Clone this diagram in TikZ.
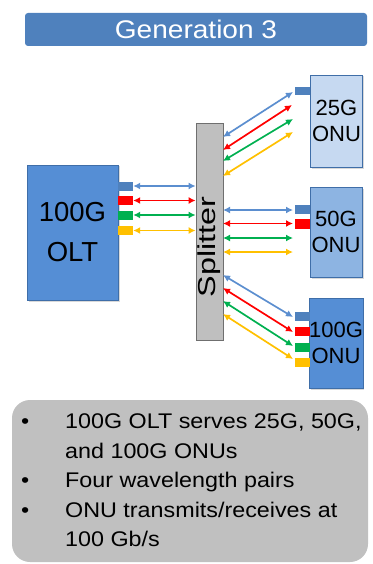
\documentclass[tikz,border=0pt]{standalone}
\usepackage{fontspec}
\setmainfont{Liberation Sans}
\newfontfamily\widesans{Liberation Sans}[FakeStretch=1.1]
\usetikzlibrary{arrows.meta,shadows}

\definecolor{titleblue}{HTML}{4F81BD}
\definecolor{boxline}{HTML}{3F6EA8}
\definecolor{oltblue}{HTML}{558ED5}
\definecolor{onulight}{HTML}{C6D9F1}
\definecolor{onumid}{HTML}{8DB4E2}
\definecolor{portblue}{HTML}{4F81BD}
\definecolor{lnblue}{HTML}{5B8ECF}
\definecolor{lnred}{HTML}{FF0000}
\definecolor{lngreen}{HTML}{00B050}
\definecolor{lnyellow}{HTML}{FFC000}
\definecolor{splitgray}{HTML}{BFBFBF}
\definecolor{splitline}{HTML}{6F6F6F}
\definecolor{notegray}{HTML}{C0C0C0}

\begin{document}
\begin{tikzpicture}[
        x=1pt, y=-1pt,
        box/.style={draw=boxline, line width=0.6pt, inner sep=0pt, align=center,
            drop shadow={shadow xshift=1.5pt, shadow yshift=-1.5pt, opacity=0.3}},
        port/.style={minimum width=15pt, minimum height=9pt, inner sep=0pt},
        link/.style={line width=1.7pt, {Latex[length=7pt,width=7pt]}-{Latex[length=7pt,width=7pt]}},
        onulabel/.style={font=\fontsize{22}{26}\selectfont}
    ]
        \useasboundingbox (0,0) rectangle (372,564);

        % title bar
        \node[fill=titleblue, rounded corners=3pt, minimum width=342pt, minimum height=33pt,
              inner sep=0pt, text=white, font=\widesans\fontsize{25.5}{30}\selectfont]
              (title) at (196,29.5) {Generation 3};

        % OLT, splitter and ONUs
        \node[box, fill=oltblue, minimum width=91pt, minimum height=135pt,
              font=\fontsize{27.5}{40}\selectfont] (olt) at (72.5,232.5) {100G\\OLT};
        \node[draw=splitline, fill=splitgray, line width=0.8pt, minimum width=27pt,
              minimum height=217pt, inner sep=0pt] (spl) at (209.5,231.5) {};
        \node[rotate=90, inner sep=0pt, font=\fontsize{24.5}{28}\selectfont]
              (spltext) at (209.5,247) {\scalebox{1.32}[1]{Splitter}};
        \node[box, fill=onulight, minimum width=52pt, minimum height=92pt, onulabel]
              (onuA) at (336.5,121) {25G\\ONU};
        \node[box, fill=onumid, minimum width=52pt, minimum height=90pt, onulabel]
              (onuB) at (336,232) {50G\\ONU};
        \node[box, fill=oltblue, minimum width=52pt, minimum height=90pt, onulabel]
              (onuC) at (336,343) {100G\\ONU};

        % ports
        \node[port, fill=portblue] (oltB) at (125.5,186) {};
        \node[port, fill=lnred]    (oltR) at (125.5,200.5) {};
        \node[port, fill=lngreen]  (oltG) at (125.5,215) {};
        \node[port, fill=lnyellow] (oltY) at (125.5,230.5) {};
        \node[port, fill=portblue, minimum height=8pt] (aB) at (302.5,91) {};
        \node[port, fill=portblue] (bB) at (302.5,209.5) {};
        \node[port, fill=lnred, minimum height=10pt] (bR) at (302.5,224) {};
        \node[port, fill=portblue] (cB) at (302.5,316) {};
        \node[port, fill=lnred]    (cR) at (302.5,331.5) {};
        \node[port, fill=lngreen]  (cG) at (302.5,347) {};
        \node[port, fill=lnyellow] (cY) at (302.5,362) {};

        % free ends of the links
        \coordinate (sA1) at (223,137);  \coordinate (eA1) at (293,92);
        \coordinate (sA2) at (223,150);  \coordinate (eA2) at (292,105);
        \coordinate (sA3) at (223,161);  \coordinate (eA3) at (293,119);
        \coordinate (sA4) at (223,176);  \coordinate (eA4) at (293,132);
        \coordinate (sB1) at (223,210);  \coordinate (eB1) at (293,210);
        \coordinate (sB2) at (223,223.5);\coordinate (eB2) at (293,223.5);
        \coordinate (sB3) at (223,238);  \coordinate (eB3) at (293,238);
        \coordinate (sB4) at (223,252);  \coordinate (eB4) at (293,252);
        \coordinate (sC1) at (223,275);  \coordinate (eC1) at (293,317);
        \coordinate (sC2) at (223,288);  \coordinate (eC2) at (293,332);
        \coordinate (sC3) at (223,301);  \coordinate (eC3) at (293,346);
        \coordinate (sC4) at (223,314);  \coordinate (eC4) at (293,359);

        % OLT to splitter
        \draw[link, lnblue]   (oltB) -- (oltB -| spl.west);
        \draw[link, lnred]    (oltR) -- (oltR -| spl.west);
        \draw[link, lngreen]  (oltG) -- (oltG -| spl.west);
        \draw[link, lnyellow] (oltY) -- (oltY -| spl.west);

        % splitter to ONUs
        \draw[link, lnblue]   (sA1) -- (eA1);
        \draw[link, lnred]    (sA2) -- (eA2);
        \draw[link, lngreen]  (sA3) -- (eA3);
        \draw[link, lnyellow] (sA4) -- (eA4);
        \draw[link, lnblue]   (sB1) -- (eB1);
        \draw[link, lnred]    (sB2) -- (eB2);
        \draw[link, lngreen]  (sB3) -- (eB3);
        \draw[link, lnyellow] (sB4) -- (eB4);
        \draw[link, lnblue]   (sC1) -- (eC1);
        \draw[link, lnred]    (sC2) -- (eC2);
        \draw[link, lngreen]  (sC3) -- (eC3);
        \draw[link, lnyellow] (sC4) -- (eC4);

        % notes
        \node[fill=notegray, rounded corners=18pt, minimum width=356pt, minimum height=162pt,
              inner sep=0pt] (notes) at (190,481) {};
        \node[anchor=north west, align=left, inner sep=0pt,
              font=\widesans\fontsize{21.2}{29.5}\selectfont] (notetext) at (21,413.5)
            {\makebox[44pt][l]{\textbullet}100G OLT serves 25G, 50G,\\
             \hspace*{44pt}and 100G ONUs\\
             \makebox[44pt][l]{\textbullet}Four wavelength pairs\\
             \makebox[44pt][l]{\textbullet}ONU transmits/receives at\\
             \hspace*{44pt}100 Gb/s};
    \end{tikzpicture}
\end{document}
